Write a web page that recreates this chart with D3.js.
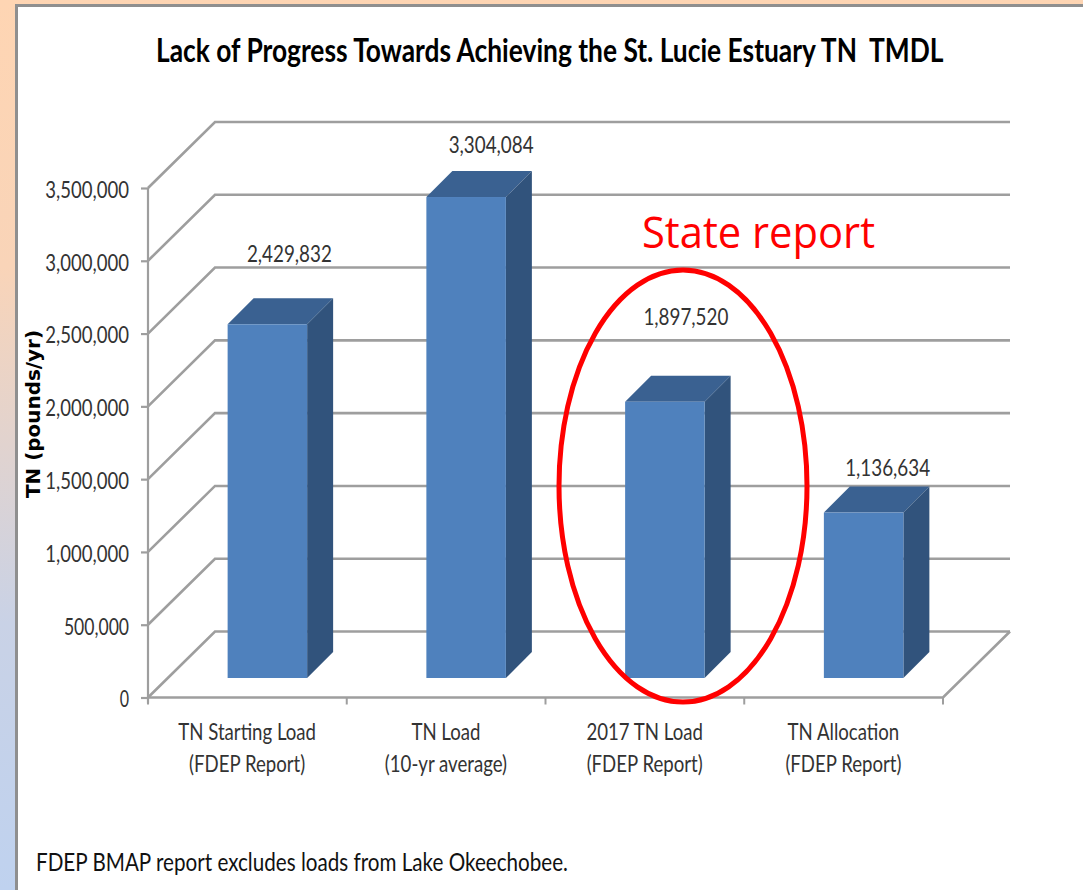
<!DOCTYPE html>
<html><head><meta charset="utf-8">
<script src="https://cdn.jsdelivr.net/npm/d3@7"></script>
<style>html,body{margin:0;padding:0;background:#fff}svg{display:block}text{font-family:Lato,"Open Sans",sans-serif}</style>
</head><body><div id="c"></div>
<script>
const categories = [["TN Starting Load","(FDEP Report)"],["TN Load","(10-yr average)"],["2017 TN Load","(FDEP Report)"],["TN Allocation","(FDEP Report)"]];
const values = [2429832,3304084,1897520,1136634];
const yTicks = [0,500000,1000000,1500000,2000000,2500000,3000000,3500000];
const titleText = "Lack of Progress Towards Achieving the St. Lucie Estuary TN  TMDL";
const yTitle = "TN (pounds/yr)";
const noteText = "FDEP BMAP report excludes loads from Lake Okeechobee.";
const calloutText = "State report";

const W=1083,H=890;
const labelRaise=[44,26,59,19], labelShift=[9,12,8,11];
const svg=d3.select("#c").append("svg").attr("width",W).attr("height",H);
const defs=svg.append("defs");
const g=defs.append("linearGradient").attr("id","bg").attr("x1",0).attr("x2",0).attr("y1",0).attr("y2",1);
g.append("stop").attr("offset",0).attr("stop-color","#fed5b3");
g.append("stop").attr("offset",.3).attr("stop-color","#f9d4b8");
g.append("stop").attr("offset",.7).attr("stop-color","#c9d2e6");
g.append("stop").attr("offset",1).attr("stop-color","#bfd2ef");
svg.append("rect").attr("width",W).attr("height",H).attr("fill","url(#bg)");
svg.append("rect").attr("x",16.5).attr("y",5.5).attr("width",W+10).attr("height",H+10).attr("fill","#fff").attr("stroke","#8f8f8f").attr("stroke-width",3);

const x0=148,x1=943,dx=67,dy=-66;
const y=d3.scaleLinear().domain([0,3500000]).range([697.5,188]);
const x=d3.scaleBand().domain(d3.range(categories.length)).range([x0,x1]);
const grid="#9e9e9e";
const fmt=d3.format(",");
const ln=d3.line();
const plot=svg.append("g");

plot.selectAll("path.grid").data(yTicks).join("path").attr("class","grid")
 .attr("fill","none").attr("stroke",grid).attr("stroke-width",2.6)
 .attr("d",t=>ln([[x0,y(t)],[x0+dx,y(t)+dy],[x1+dx,y(t)+dy]]));
plot.append("path").attr("fill","none").attr("stroke",grid).attr("stroke-width",2.6)
 .attr("d",ln([[x1+dx,y(0)+dy],[x1,y(0)],[x0,y(0)]]));
const yAxis=d3.axisLeft(y).tickValues(yTicks).tickFormat(fmt).tickSize(7).tickPadding(12);
const ya=svg.append("g").attr("transform",`translate(${x0},0)`).call(yAxis);
ya.select(".domain").attr("stroke",grid).attr("stroke-width",2.2).attr("d",`M0,${y(3500000)}V${y(0)+6}`);
ya.selectAll(".tick line").attr("stroke",grid).attr("stroke-width",2.2);
ya.selectAll(".tick text").attr("font-size",23).attr("fill","#333").style("font-family","Lato").attr("y",2)
  .attr("textLength",d=>String(fmt(d)).length*9.3).attr("lengthAdjust","spacingAndGlyphs");
const xt=d3.range(categories.length+1).map(i=>x0+i*x.step());
svg.selectAll("line.xt").data(xt).join("line").attr("class","xt")
 .attr("x1",d=>d).attr("x2",d=>d).attr("y1",y(0)).attr("y2",y(0)+7).attr("stroke",grid).attr("stroke-width",2);

const bw=79.5, bdepth=26, baseY=678, inset=(x.step()-bw)/2+(dx-bdepth)/2-0.5;
const h=v=>y(0)-y(v);
const bars=svg.append("g").selectAll("g").data(values).join("g");
const bx=(i)=>x(i)+inset;
bars.append("path").attr("fill","#3a6191").attr("d",(v,i)=>{const X=bx(i),T=baseY-h(v);
 return ln([[X,T],[X+bdepth,T-bdepth],[X+bw+bdepth,T-bdepth],[X+bw,T]])+"Z";});
bars.append("path").attr("fill","#31537c").attr("d",(v,i)=>{const X=bx(i)+bw,T=baseY-h(v);
 return ln([[X,T],[X+bdepth,T-bdepth],[X+bdepth,baseY-bdepth],[X,baseY]])+"Z";});
bars.append("rect").attr("fill","#4f81bd").attr("x",(v,i)=>bx(i)).attr("y",v=>baseY-h(v)).attr("width",bw).attr("height",h);

bars.append("text").attr("text-anchor","middle").attr("font-size",23).attr("fill","#333")
 .attr("x",(v,i)=>bx(i)+(bw+bdepth)/2+labelShift[i]).attr("y",(v,i)=>baseY-h(v)-bdepth-labelRaise[i]+8)
 .attr("textLength",85).attr("lengthAdjust","spacingAndGlyphs").text(fmt);

const cat=svg.append("g").selectAll("text").data(categories).join("text").attr("text-anchor","middle").attr("font-size",23).attr("fill","#333");
cat.selectAll("tspan").data((d,i)=>d.map(s=>({s,i}))).join("tspan")
 .attr("x",d=>x(d.i)+x.step()/2).attr("y",(d,j)=>740+j*32).text(d=>d.s);
cat.attr("transform",(d,i)=>{const c=x(i)+x.step()/2-1;return `translate(${c},0) scale(.81,1) translate(${-c},0)`});

const tt=svg.append("text").attr("font-size",32).attr("font-weight",700).attr("fill","#000")
 .style("white-space","pre").text(titleText);
tt.attr("transform",`translate(156,62) scale(${788/tt.node().getComputedTextLength()},1)`);
svg.append("text").attr("transform","translate(40,414) rotate(-90)").attr("text-anchor","middle").attr("font-size",19)
 .attr("font-weight",700).attr("fill","#000").attr("textLength",168).attr("lengthAdjust","spacingAndGlyphs").style("font-family","'DejaVu Sans'").text(yTitle);
svg.append("text").attr("x",36).attr("y",871).attr("font-size",25).attr("fill","#111")
 .attr("textLength",532).attr("lengthAdjust","spacingAndGlyphs").text(noteText);
svg.append("text").attr("x",642).attr("y",248).attr("font-size",44).attr("fill","#f00")
 .attr("textLength",233).attr("lengthAdjust","spacingAndGlyphs").style("font-family","'Open Sans'").text(calloutText);
svg.append("ellipse").attr("cx",683).attr("cy",486).attr("rx",124).attr("ry",216).attr("fill","none").attr("stroke","#f00").attr("stroke-width",5);
</script></body></html>
